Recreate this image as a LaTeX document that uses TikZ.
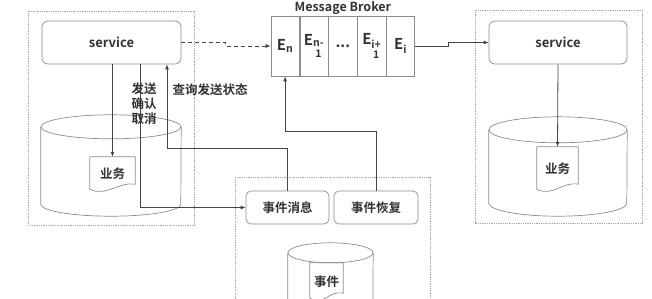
\documentclass[tikz,border=0pt]{standalone}
\usepackage{fontspec}
\setmainfont{Noto Sans CJK SC}[BoldFont={Noto Sans CJK SC Bold}]
\usetikzlibrary{positioning,arrows.meta}

\definecolor{linegray}{HTML}{454545}
\definecolor{boxgray}{HTML}{8C8C8C}
\definecolor{framegray}{HTML}{A5A5A5}
\definecolor{textgray}{HTML}{333333}

\tikzset{
  >={Latex[length=5pt,width=4pt]},
  every node/.style={text=textgray},
  frame/.style={draw=framegray,densely dotted,line width=0.8pt},
  boxline/.style={draw=boxgray,line width=0.7pt},
  link/.style={draw=linegray,line width=0.8pt},
  svcbox/.style={boxline,rounded corners=6pt,minimum width=139pt,minimum height=43pt,
    font=\bfseries\fontsize{13}{15}\selectfont},
  cell/.style={boxline,minimum width=28.2pt,minimum height=60pt,inner sep=0pt,
    align=center,font=\bfseries\fontsize{15}{17}\selectfont},
  msgbox/.style={boxline,rounded corners=5pt,minimum width=83pt,minimum height=33pt,
    font=\bfseries\fontsize{12.5}{14}\selectfont},
  docbox/.style={inner sep=0pt,font=\bfseries\fontsize{12.5}{14}\selectfont},
  dbbox/.style={inner sep=0pt},
  lbl/.style={inner sep=1pt,align=center,font=\bfseries\fontsize{12.5}{15}\selectfont},
}

% sheet with a wavy lower edge, drawn round a node
\newcommand{\docoutline}[1]{%
  \draw[boxline] (#1.north west) -- ([yshift=2pt]#1.south west)
    .. controls ([xshift=15pt,yshift=-6pt]#1.south west) and ([xshift=-15pt,yshift=10pt]#1.south east)
    .. ([yshift=7pt]#1.south east) -- (#1.north east) -- cycle;}
% drum: name, x radius, y radius
\newcommand{\dboutline}[3]{%
  \draw[boxline] ([yshift=-#3]#1.north west) -- ([yshift=#3]#1.south west)
    arc[start angle=180,end angle=360,x radius=#2,y radius=#3] -- ([yshift=-#3]#1.north east);
  \draw[boxline] ([yshift=-#3]#1.north) ellipse[x radius=#2,y radius=#3];}
% subscript that runs onto a second line
\newcommand{\wrapsub}[2]{E\textsubscript{\raisebox{-6pt}{\shortstack{#1\\#2}}}}

\begin{document}
\begin{tikzpicture}[x=1pt,y=-1pt]
  \clip (0,0) rectangle (652,298);

  % dotted frames
  \draw[frame] (28,11) rectangle (194,225);
  \draw[frame] (475,10) rectangle (642,223);
  \draw[frame] (235,177) rectangle (430,310);

  % sending side
  \node[svcbox] (svcL) at (111.5,42.5) {service};
  \node[dbbox,minimum width=140pt,minimum height=101pt] (dbL) at (111,165.5) {};
  \dboutline{dbL}{70pt}{12pt}
  \node[docbox,minimum width=45pt,minimum height=34pt] (docL) at (112.5,174) {业务};
  \docoutline{docL}

  % broker queue
  \node[cell] (brEn) at (285.1,46) {E\textsubscript{n}};
  \node[cell,right=0pt of brEn] (brEn1) {\wrapsub{n-}{1}};
  \node[cell,right=0pt of brEn1] (brDots) {...};
  \node[cell,right=0pt of brDots] (brEi1) {\wrapsub{i+}{1}};
  \node[cell,right=0pt of brEi1] (brEi) {E\textsubscript{i}};
  \node[above=0pt of brDots,inner sep=1pt,font=\bfseries\fontsize{12.5}{14}\selectfont] (brLabel) {Message Broker};

  % receiving side
  \node[svcbox,minimum width=138pt] (svcR) at (558,42.5) {service};
  \node[dbbox,minimum width=138pt,minimum height=99pt] (dbR) at (558,166.5) {};
  \dboutline{dbR}{69pt}{13pt}
  \node[docbox,minimum width=41pt,minimum height=44pt] (docR) at (557.5,169) {业务};
  \docoutline{docR}

  % event table
  \node[msgbox] (msgE) at (287.5,207.5) {事件消息};
  \node[msgbox,minimum width=84pt] (msgR) at (376,207.5) {事件恢复};
  \node[dbbox,minimum width=85pt,minimum height=80pt] (dbE) at (330.5,283) {};
  \dboutline{dbE}{42.5pt}{10pt}
  \node[docbox,minimum width=33pt,minimum height=37pt] (docE) at (326.5,281.5) {事件};
  \docoutline{docE}

  % connectors
  \draw[link,->] (docL.north |- svcL.south) -- (docL.north);
  \draw[link,->] ([xshift=28.5pt]svcL.south) |- (msgE.west);
  \draw[link,->] (msgE.north) -- ++(0,-42) -| ([xshift=55.5pt]svcL.south);
  \draw[link,->] (msgR.north) -- ++(0,-59) -| (brEn.south);
  \draw[link,dash pattern=on 4pt off 3pt,->] (svcL.east) -| ([xshift=-45pt]brEn.west) -- (brEn.west);
  \draw[link,->] (brEi.east) -| ([xshift=-40pt]svcR.west) -- (svcR.west);
  \draw[link,->] (svcR.south) -- (docR.north);

  \node[lbl] (lblSend) at (144,104) {发送\\确认\\取消};
  \node[lbl] (lblQuery) at (210,90) {查询发送状态};
\end{tikzpicture}
\end{document}
